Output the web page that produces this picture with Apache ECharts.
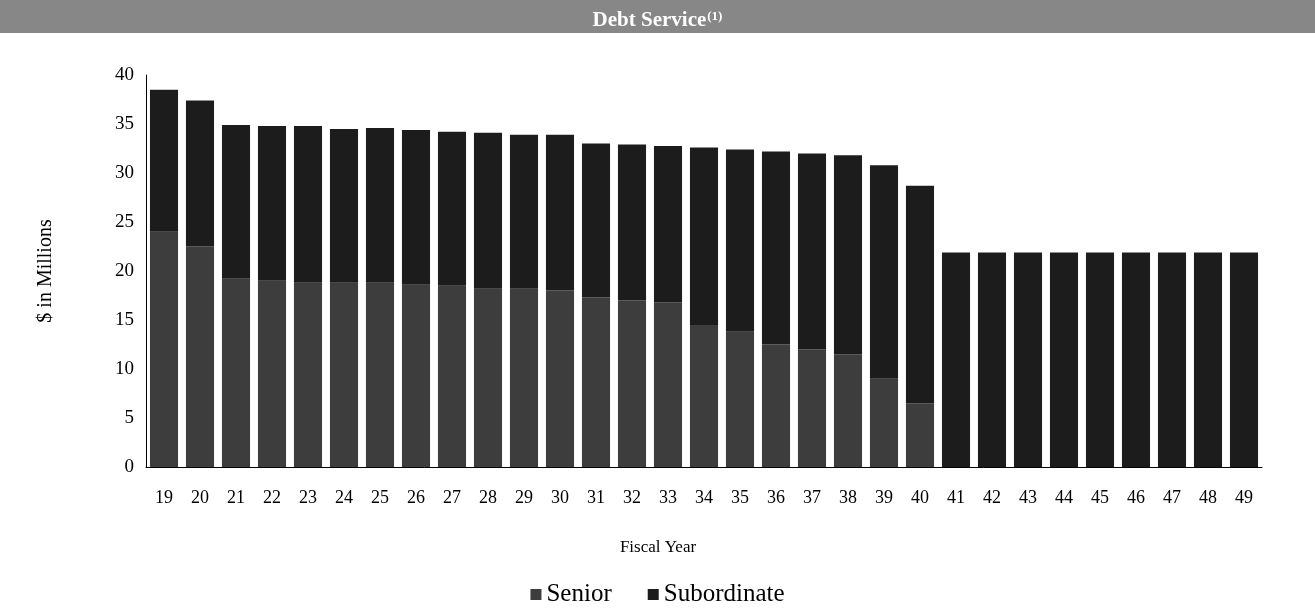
<!DOCTYPE html>
<html>
<head>
<meta charset="utf-8">
<style>
  html, body { margin: 0; padding: 0; background: #fff; }
  #chart { width: 1315px; height: 613px; }
</style>
<script src="https://cdn.jsdelivr.net/npm/echarts@6/dist/echarts.min.js"></script>
</head>
<body>
<div id="chart"></div>
<script>
// Fiscal years (two-digit)
const fiscalYears = ['19','20','21','22','23','24','25','26','27','28','29','30','31','32','33','34','35','36','37','38','39','40','41','42','43','44','45','46','47','48','49'];

// Debt service, $ millions
const seniorDebt = [24.0, 22.5, 19.2, 19.0, 18.8, 18.8, 18.8, 18.6, 18.5, 18.2, 18.2, 18.0, 17.3, 17.0, 16.8, 14.5, 13.8, 12.5, 12.0, 11.5, 9.0, 6.5, 0, 0, 0, 0, 0, 0, 0, 0, 0];
const subordinateDebt = [14.5, 14.9, 15.7, 15.8, 16.0, 15.7, 15.8, 15.8, 15.7, 15.9, 15.7, 15.9, 15.7, 15.9, 15.95, 18.1, 18.6, 19.7, 20.0, 20.3, 21.8, 22.2, 21.9, 21.9, 21.9, 21.9, 21.9, 21.9, 21.9, 21.9, 21.9];

// Y axis ticks
const yTicks = { min: 0, max: 40, interval: 5 };

const serif = '"Liberation Serif", "DejaVu Serif", serif';

const chart = echarts.init(document.getElementById('chart'));
chart.setOption({
  backgroundColor: '#ffffff',
  animation: false,
  graphic: [
    {
      type: 'rect',
      shape: { x: 0, y: 0, width: 1315, height: 33 },
      style: { fill: '#878787' },
      z: 0
    },
    {
      // x-axis title, centred on the page
      type: 'text',
      x: 658,
      y: 548,
      style: {
        text: 'Fiscal Year',
        fontFamily: serif,
        fontSize: 17,
        fill: '#000',
        align: 'center',
        verticalAlign: 'middle'
      }
    }
  ],
  title: {
    text: '{t|Debt Service}{s|(1)}',
    left: 'center',
    top: 5,
    textStyle: {
      rich: {
        t: { fontFamily: serif, fontSize: 21, fontWeight: 'bold', color: '#ffffff' },
        s: { fontFamily: serif, fontSize: 13, fontWeight: 'bold', color: '#ffffff', verticalAlign: 'top', padding: [0, 0, 9, 1] }
      }
    }
  },
  legend: {
    bottom: 1,
    left: 'center',
    itemWidth: 11,
    itemHeight: 11,
    itemGap: 36,
    icon: 'rect',
    textStyle: { fontFamily: serif, fontSize: 25, color: '#000' },
    data: ['Senior', 'Subordinate']
  },
  grid: { left: 146, right: 53, top: 75, bottom: 146, containLabel: false },
  xAxis: {
    type: 'category',
    data: fiscalYears,
    axisLine: { lineStyle: { color: '#000', width: 1 } },
    axisTick: { show: false },
    axisLabel: { fontFamily: serif, fontSize: 18, color: '#000', margin: 22, interval: 0 }
  },
  yAxis: {
    type: 'value',
    min: yTicks.min,
    max: yTicks.max,
    interval: yTicks.interval,
    name: '$ in Millions',
    nameLocation: 'middle',
    nameGap: 90,
    nameRotate: 90,
    nameTextStyle: { fontFamily: serif, fontSize: 20, color: '#000' },
    axisLine: { show: true, lineStyle: { color: '#000', width: 1 } },
    axisTick: { show: false },
    splitLine: { show: false },
    axisLabel: { fontFamily: serif, fontSize: 19, color: '#000', margin: 12 }
  },
  series: [
    {
      name: 'Senior',
      type: 'bar',
      stack: 'debt',
      data: seniorDebt,
      barCategoryGap: '22%',
      itemStyle: { color: '#3d3d3d' }
    },
    {
      name: 'Subordinate',
      type: 'bar',
      stack: 'debt',
      data: subordinateDebt,
      barCategoryGap: '22%',
      itemStyle: { color: '#1c1c1c' }
    }
  ]
});
</script>
</body>
</html>
